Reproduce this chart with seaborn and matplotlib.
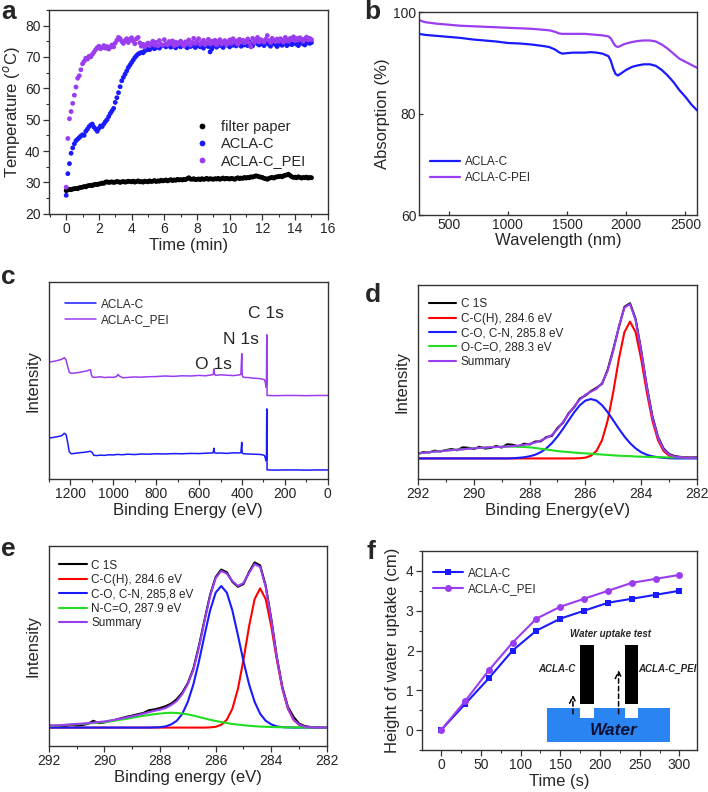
import numpy as np
import pandas as pd
import seaborn as sns
import matplotlib.pyplot as plt
from matplotlib.patches import Rectangle
from matplotlib.ticker import MultipleLocator, NullLocator

sns.set_theme(style="ticks")
plt.rcParams['font.family'] = ['Liberation Sans', 'DejaVu Sans']

BLUE = "#1a1aff"
PURPLE = "#9a3cf0"

# ---------------- (a) photothermal heating ----------------
time_min = np.round(np.arange(0, 15.01, 0.1), 1)
temp_filter = [27.4, 27.6, 27.8, 27.7, 27.9, 28.0, 28.1, 28.0, 28.3, 28.4,
               28.5, 28.7, 28.6, 28.9, 29.0, 29.1, 29.0, 29.3, 29.4, 29.3,
               29.5, 29.6, 29.8, 29.7, 30.1, 30.2, 30.0, 30.1, 30.2, 30.0,
               30.1, 30.3, 30.2, 30.0, 30.2, 30.3, 30.1, 30.2, 30.4, 30.3,
               30.2, 30.4, 30.1, 30.3, 30.5, 30.2, 30.3, 30.1, 30.4, 30.3,
               30.2, 30.5, 30.3, 30.4, 30.6, 30.3, 30.5, 30.4, 30.7, 30.5,
               30.6, 30.8, 30.5, 30.7, 30.9, 30.6, 30.8, 30.7, 31.0, 30.8,
               30.9, 30.8, 31.0, 30.9, 31.2, 31.5, 31.1, 31.0, 31.2, 30.9,
               31.0, 31.1, 30.9, 31.2, 31.0, 31.1, 31.3, 31.0, 31.2, 31.1,
               31.0, 31.2, 31.1, 31.3, 31.0, 31.2, 31.4, 31.1, 31.3, 31.2,
               31.1, 31.3, 31.2, 31.0, 31.3, 31.5, 31.2, 31.4, 31.3, 31.6,
               31.4, 31.6, 31.5, 31.8, 31.7, 31.9, 32.1, 32.0, 31.8, 31.7,
               31.6, 31.3, 31.2, 31.0, 31.3, 31.5, 31.6, 31.4, 31.7, 31.8,
               31.9, 32.0, 31.8, 32.1, 32.3, 32.4, 32.6, 32.2, 31.8, 31.6,
               31.7, 31.5, 31.8, 31.6, 31.4, 31.6, 31.5, 31.7, 31.4, 31.6, 31.5]
temp_aclac = [25.9, 32.8, 36.0, 39.3, 41.0, 42.3, 43.3, 43.8, 44.3, 44.8,
              45.2, 45.0, 46.3, 47.0, 47.8, 48.3, 48.6, 47.6, 47.0, 46.3,
              47.2, 48.0, 47.8, 48.6, 49.4, 50.0, 51.0, 52.0, 52.8, 53.6,
              55.5, 57.0, 58.6, 60.5, 62.4, 63.5, 64.5, 65.5, 66.6, 67.4,
              68.2, 69.0, 69.8, 70.4, 70.9, 71.2, 71.4, 71.3, 71.9, 72.2,
              72.5, 72.3, 72.8, 73.0, 72.6, 73.0, 73.3, 72.8, 73.4, 73.6,
              73.6, 73.2, 74.0, 73.5, 73.1, 73.8, 73.4, 72.9, 73.5, 73.9,
              73.2, 73.6, 74.1, 73.4, 72.9, 73.7, 73.3, 74.2, 73.5, 73.0,
              73.6, 74.0, 73.2, 73.7, 72.8, 73.5, 74.1, 73.3, 71.6, 72.5,
              73.4, 73.9, 73.1, 73.6, 74.2, 73.5, 73.0, 73.8, 74.3, 73.6,
              73.2, 74.0, 73.7, 74.4, 73.5, 73.9, 74.6, 73.4, 74.1, 73.8,
              74.3, 73.6, 74.8, 74.0, 73.5, 74.5, 75.0, 74.2, 73.8, 74.6,
              74.1, 73.6, 74.4, 74.9, 74.0, 73.4, 74.3, 74.7, 73.9, 73.3,
              74.0, 74.5, 73.7, 74.2, 74.8, 73.6, 74.1, 74.6, 73.9, 74.3,
              74.7, 74.0, 73.6, 74.4, 74.8, 74.1, 73.8, 74.5, 74.9, 74.3, 74.6]
temp_pei = [28.5, 44.0, 50.3, 52.6, 55.2, 57.8, 60.4, 63.2, 64.0, 65.9,
            67.8, 68.6, 69.6, 69.3, 70.2, 70.0, 70.8, 71.5, 72.3, 72.9,
            73.4, 72.6, 72.9, 73.6, 72.8, 73.3, 72.5, 73.1, 73.8, 73.2,
            74.4, 75.3, 76.2, 75.8, 74.9, 74.3, 75.2, 75.8, 74.6, 75.6,
            76.1, 75.0, 74.2, 75.8, 76.2, 74.5, 73.4, 74.0, 73.2, 73.9,
            74.4, 73.6, 74.2, 75.0, 73.8, 74.6, 73.5, 75.2, 74.0, 73.7,
            75.5, 74.2, 73.8, 74.9, 74.3, 75.1, 73.6, 74.7, 73.9, 74.5,
            75.0, 74.1, 73.5, 74.8, 74.2, 75.4, 73.8, 74.6, 75.9, 74.3,
            74.9, 75.8, 74.0, 74.7, 75.3, 73.9, 74.5, 75.6, 74.2, 75.0,
            74.4, 75.3, 73.8, 74.9, 75.5, 74.1, 74.7, 75.2, 73.9, 74.6,
            75.4, 74.3, 75.8, 74.7, 75.1, 74.0, 75.6, 74.8, 75.3, 74.5,
            75.0, 75.7, 74.4, 73.2, 75.9, 74.6, 75.3, 76.2, 74.8, 75.5,
            75.1, 74.7, 75.6, 76.8, 75.2, 74.6, 75.9, 75.3, 74.9, 75.7,
            75.0, 75.8, 75.3, 74.7, 76.2, 75.4, 75.0, 75.9, 75.5, 76.4,
            75.2, 75.9, 75.4, 76.1, 75.6, 75.0, 75.8, 76.3, 75.4, 75.9, 75.5]

# ---------------- (b) absorption ----------------
wavelength = [250, 300, 400, 500, 600, 700, 800, 900, 1000, 1100, 1200, 1300, 1350, 1400,
              1430, 1460, 1500, 1550, 1600, 1650, 1700, 1750, 1800, 1850, 1870, 1890, 1910,
              1930, 1950, 1975, 2000, 2050, 2100, 2150, 2200, 2250, 2300, 2350, 2400, 2450,
              2500, 2550, 2600]
abs_aclac = [95.7, 95.5, 95.3, 95.1, 94.9, 94.6, 94.4, 94.2, 93.9, 93.8,
             93.6, 93.3, 93.1, 92.6, 92.1, 91.8, 91.9, 92.0, 92.0, 92.0,
             92.1, 92.0, 91.8, 91.3, 90.4, 88.9, 87.8, 87.5, 87.8, 88.2,
             88.6, 89.2, 89.5, 89.7, 89.7, 89.4, 88.6, 87.5, 86.2, 84.6,
             83.3, 81.8, 80.6]
abs_pei = [98.4, 98.0, 97.7, 97.5, 97.3, 97.2, 97.1, 97.0, 96.9, 96.8,
           96.7, 96.5, 96.4, 96.1, 95.8, 95.7, 95.7, 95.7, 95.7, 95.7,
           95.6, 95.5, 95.4, 95.2, 94.8, 94.0, 93.3, 93.1, 93.3, 93.6,
           93.8, 94.1, 94.3, 94.4, 94.4, 94.2, 93.6, 92.8, 91.8, 90.8,
           90.2, 89.6, 89.0]

# ---------------- (c) XPS survey ----------------
be_pei = [1300, 1285, 1270, 1255, 1240, 1228, 1220, 1212, 1205, 1195, 1180, 1160, 1140, 1120,
          1106, 1102, 1097, 1085, 1060, 1040, 1020, 1000, 985, 978, 970, 955, 930, 900, 870,
          840, 800, 760, 720, 680, 640, 600, 570, 545, 534, 531, 528, 522, 500, 470, 440, 415,
          405, 401, 399, 396, 390, 370, 345, 320, 305, 295, 291, 288, 286, 284.5, 283, 275,
          250, 200, 150, 100, 50, 0]
int_pei = [59.3, 59.6, 59.9, 60.3, 60.8, 61.6, 60.5, 57.0, 54.2, 53.6, 53.8, 54.1, 54.5, 55.0,
           55.5, 53.0, 51.8, 51.6, 51.9, 51.5, 51.7, 51.6, 52.0, 53.1, 52.2, 51.4, 51.6, 51.8,
           51.7, 51.9, 52.0, 52.3, 52.1, 52.4, 52.3, 52.6, 52.4, 52.8, 53.0, 55.9, 53.2, 52.6,
           52.9, 52.7, 52.5, 52.8, 53.1, 63.6, 53.0, 51.8, 51.6, 51.5, 51.2, 51.0, 50.7, 50.4,
           49.0, 46.6, 48.0, 73.2, 42.4, 42.4, 42.3, 42.4, 42.4, 42.3, 42.4, 42.4]
be_aclac = [1300, 1285, 1270, 1255, 1240, 1228, 1220, 1212, 1205, 1195, 1180, 1160, 1140, 1120,
            1106, 1098, 1090, 1075, 1060, 1040, 1020, 1000, 980, 960, 930, 900, 870, 840, 800,
            760, 720, 680, 640, 600, 570, 545, 534, 531, 528, 522, 500, 470, 440, 415, 405, 401,
            399, 396, 390, 370, 345, 320, 305, 295, 291, 288, 286, 284.5, 283, 275, 250, 200,
            150, 100, 50, 0]
int_aclac = [20.8, 21.0, 21.3, 21.6, 22.0, 23.2, 22.6, 18.5, 13.8, 12.8, 13.0, 13.3, 13.5, 13.8,
             14.1, 13.4, 12.0, 11.9, 12.1, 12.0, 12.3, 12.2, 12.5, 12.3, 12.6, 12.4, 12.7, 12.6,
             12.8, 12.7, 12.9, 12.8, 13.0, 12.9, 13.1, 13.2, 13.3, 15.6, 13.4, 13.1, 13.2, 13.0,
             13.3, 13.2, 13.4, 18.6, 13.2, 12.9, 12.8, 12.7, 12.6, 12.5, 12.3, 11.9, 10.5, 9.3,
             10.0, 35.6, 4.6, 4.6, 4.5, 4.6, 4.6, 4.5, 4.6, 4.6]

# ---------------- (d) / (e) C 1s fits, 282 -> 292 eV every 0.2 eV ----------------
be_fit = np.round(np.linspace(282, 292, 51), 1)

d_c1s = [11.3, 11.1, 11.2, 11.4, 11.8, 12.9, 15.8, 21.9, 32.6, 48.0,
         66.4, 82.5, 90.6, 88.7, 78.2, 66.8, 56.4, 49.1, 47.0, 45.3,
         43.0, 41.4, 37.0, 33.9, 29.0, 26.3, 22.2, 21.6, 19.4, 19.3,
         17.8, 18.2, 16.8, 17.6, 17.9, 16.2, 17.0, 16.0, 15.7, 16.6,
         15.4, 16.1, 16.3, 14.8, 15.4, 14.9, 14.2, 14.6, 13.7, 13.9, 13.0]
d_cc = [11.0, 11.0, 11.1, 11.2, 11.5, 12.0, 14.5, 20.1, 30.2, 44.9,
        61.8, 75.7, 81.1, 75.7, 61.8, 44.9, 30.2, 20.1, 14.5, 12.0,
        11.0, 10.7, 10.6, 10.6, 10.6, 10.6, 10.6, 10.6, 10.6, 10.6,
        10.6, 10.6, 10.6, 10.6, 10.6, 10.6, 10.6, 10.6, 10.6, 10.6,
        10.6, 10.6, 10.6, 10.6, 10.6, 10.6, 10.6, 10.6, 10.6, 10.6, 10.6]
d_co = [10.6, 10.6, 10.6, 10.6, 10.6, 10.7, 10.9, 11.2, 11.7, 12.5,
        13.8, 15.8, 18.5, 21.9, 25.9, 30.2, 34.4, 38.0, 40.4, 41.2,
        40.4, 38.0, 34.4, 30.2, 25.9, 21.9, 18.5, 15.8, 13.8, 12.5,
        11.7, 11.2, 10.9, 10.7, 10.6, 10.6, 10.6, 10.6, 10.6, 10.6,
        10.6, 10.6, 10.6, 10.6, 10.6, 10.6, 10.6, 10.6, 10.6, 10.6, 10.6]
d_oco = [11.0, 11.0, 11.0, 11.1, 11.1, 11.1, 11.2, 11.3, 11.3, 11.4,
         11.5, 11.6, 11.8, 11.9, 12.0, 12.2, 12.4, 12.6, 12.8, 13.0,
         13.2, 13.4, 13.6, 13.9, 14.1, 14.4, 14.8, 15.2, 15.6, 16.0,
         16.3, 16.5, 16.6, 16.7, 16.7, 16.6, 16.5, 16.4, 16.2, 16.0,
         15.8, 15.6, 15.3, 15.1, 14.9, 14.6, 14.3, 14.1, 13.8, 13.5, 13.2]
d_sum = [11.0, 11.0, 11.0, 11.2, 11.5, 12.6, 15.4, 21.4, 32.0, 47.6,
         65.9, 81.9, 90.2, 88.3, 78.5, 66.1, 55.8, 49.5, 46.5, 45.0,
         43.4, 40.9, 37.4, 33.5, 29.4, 25.7, 22.7, 21.2, 19.8, 18.8,
         18.1, 17.6, 17.2, 17.0, 16.7, 16.6, 16.5, 16.4, 16.2, 16.0,
         15.8, 15.6, 15.3, 15.1, 14.9, 14.6, 14.3, 14.1, 13.8, 13.5, 13.2]

e_c1s = [9.0, 9.1, 9.4, 9.5, 10.0, 11.2, 14.6, 19.5, 29.4, 44.5,
         63.6, 80.1, 90.3, 91.8, 87.0, 81.0, 79.6, 82.1, 86.9, 88.2,
         84.5, 75.6, 63.1, 50.2, 38.8, 31.5, 26.7, 23.4, 21.2, 19.9,
         19.0, 18.3, 17.9, 16.5, 15.9, 15.2, 14.6, 13.9, 13.1, 12.5,
         11.8, 11.4, 12.6, 11.0, 10.5, 10.2, 10.6, 10.0, 9.7, 9.9, 10.4]
e_cc = [9.2, 9.2, 9.2, 9.3, 9.6, 10.6, 13.1, 18.6, 28.5, 43.1,
        59.7, 73.4, 78.8, 73.4, 59.7, 43.1, 28.5, 18.6, 13.1, 10.6,
        9.6, 9.3, 9.2, 9.2, 9.2, 9.2, 9.2, 9.2, 9.2, 9.2,
        9.2, 9.2, 9.2, 9.2, 9.2, 9.2, 9.2, 9.2, 9.2, 9.2,
        9.2, 9.2, 9.2, 9.2, 9.2, 9.2, 9.2, 9.2, 9.2, 9.2, 9.2]
e_co = [9.2, 9.2, 9.2, 9.2, 9.2, 9.2, 9.2, 9.3, 9.4, 9.8,
        10.8, 12.6, 16.1, 22.1, 30.9, 42.4, 55.4, 67.8, 76.7, 80.0,
        76.7, 67.8, 55.4, 42.4, 30.9, 22.1, 16.1, 12.6, 10.8, 9.8,
        9.4, 9.3, 9.2, 9.2, 9.2, 9.2, 9.2, 9.2, 9.2, 9.2,
        9.2, 9.2, 9.2, 9.2, 9.2, 9.2, 9.2, 9.2, 9.2, 9.2, 9.2]
e_nco = [9.2, 9.2, 9.2, 9.2, 9.2, 9.3, 9.3, 9.3, 9.4, 9.4,
         9.5, 9.6, 9.7, 9.9, 10.1, 10.4, 10.7, 11.0, 11.5, 12.0,
         12.5, 13.1, 13.8, 14.5, 15.2, 15.8, 16.2, 16.5, 16.6, 16.5,
         16.2, 15.9, 15.5, 15.1, 14.6, 14.1, 13.6, 13.2, 12.7, 12.3,
         12.0, 11.7, 11.5, 11.2, 11.0, 10.8, 10.7, 10.5, 10.3, 10.2, 10.0]
e_sum = [9.2, 9.2, 9.2, 9.3, 9.7, 10.7, 13.2, 18.8, 28.9, 43.9,
         63.0, 79.5, 89.5, 91.0, 86.5, 81.5, 80.0, 82.5, 86.2, 87.5,
         84.0, 75.0, 62.5, 49.5, 38.2, 31.0, 26.0, 22.5, 20.5, 19.0,
         18.2, 17.6, 16.9, 16.2, 15.5, 14.9, 14.3, 13.7, 13.2, 12.7,
         12.3, 12.0, 11.7, 11.4, 11.2, 11.0, 10.8, 10.6, 10.4, 10.3, 10.1]

# ---------------- (f) water uptake ----------------
time_s = [0, 30, 60, 90, 120, 150, 180, 210, 240, 270, 300]
height_aclac = [0, 0.65, 1.3, 2.0, 2.5, 2.8, 3.0, 3.2, 3.3, 3.4, 3.5]
height_pei = [0, 0.72, 1.5, 2.2, 2.8, 3.1, 3.3, 3.5, 3.7, 3.8, 3.9]

fig = plt.figure(figsize=(7.08, 7.92), dpi=100)
ax_a = fig.add_axes([0.069, 0.730, 0.394, 0.2576])
ax_b = fig.add_axes([0.592, 0.7285, 0.3927, 0.2563])
ax_c = fig.add_axes([0.069, 0.3952, 0.394, 0.2487])
ax_d = fig.add_axes([0.5904, 0.3952, 0.394, 0.245])
ax_e = fig.add_axes([0.069, 0.0581, 0.3927, 0.2525])
ax_f = fig.add_axes([0.596, 0.053, 0.3884, 0.2513])

for ax in [ax_a, ax_b, ax_c, ax_d, ax_e, ax_f]:
    for sp in ax.spines.values():
        sp.set_visible(True)
        sp.set_color("#333333")
        sp.set_linewidth(1.0)
    ax.tick_params(labelsize=10, direction="out", length=4, width=0.9, color="#333333",
                   top=False, right=False, pad=2)
    ax.tick_params(which="minor", direction="out", length=2.5, width=0.8, color="#333333")

# (a)
df_a = pd.DataFrame({
    "t": np.concatenate([time_min] * 3),
    "T": temp_filter + temp_aclac + temp_pei,
    "s": ["filter paper"] * len(time_min) + ["ACLA-C"] * len(time_min) + ["ACLA-C_PEI"] * len(time_min),
})
sns.scatterplot(data=df_a, x="t", y="T", hue="s", ax=ax_a, s=12, linewidth=0,
                palette={"filter paper": "black", "ACLA-C": BLUE, "ACLA-C_PEI": PURPLE})
ax_a.set_xlim(-1.06, 16)
ax_a.set_ylim(20, 85)
ax_a.xaxis.set_major_locator(MultipleLocator(2))
ax_a.xaxis.set_minor_locator(MultipleLocator(1))
ax_a.yaxis.set_major_locator(MultipleLocator(10))
ax_a.yaxis.set_minor_locator(MultipleLocator(5))
ax_a.set_xlabel("Time (min)", fontsize=12, labelpad=1)
ax_a.set_ylabel("Temperature ($^{o}$C)", fontsize=12, labelpad=2)
ax_a.legend(loc="upper left", bbox_to_anchor=(0.46, 0.51), frameon=False, fontsize=10.5,
            handletextpad=0.3, labelspacing=0.2, markerscale=1.2, borderpad=0.2)

# (b)
df_b = pd.DataFrame({"wl": wavelength * 2, "A": abs_aclac + abs_pei,
                     "s": ["ACLA-C"] * len(wavelength) + ["ACLA-C-PEI"] * len(wavelength)})
sns.lineplot(data=df_b, x="wl", y="A", hue="s", ax=ax_b, linewidth=1.6, estimator=None,
             palette={"ACLA-C": BLUE, "ACLA-C-PEI": PURPLE})
ax_b.set_xlim(250, 2600)
ax_b.set_ylim(60, 100)
ax_b.xaxis.set_major_locator(MultipleLocator(500))
ax_b.yaxis.set_major_locator(MultipleLocator(20))
ax_b.tick_params(direction="in", length=3)
ax_b.set_xlabel("Wavelength (nm)", fontsize=12, labelpad=1)
ax_b.set_ylabel("Absorption (%)", fontsize=12, labelpad=2)
ax_b.legend(loc="lower left", bbox_to_anchor=(0.0, 0.1), frameon=False, fontsize=8.5,
            handlelength=2.6, handletextpad=0.4, labelspacing=0.35)

# (c)
df_c = pd.DataFrame({"be": be_aclac + be_pei, "I": int_aclac + int_pei,
                     "s": ["ACLA-C"] * len(be_aclac) + ["ACLA-C_PEI"] * len(be_pei)})
sns.lineplot(data=df_c, x="be", y="I", hue="s", ax=ax_c, linewidth=1.1, estimator=None,
             palette={"ACLA-C": BLUE, "ACLA-C_PEI": PURPLE})
ax_c.set_xlim(1300, 0)
ax_c.set_ylim(0, 100)
ax_c.xaxis.set_major_locator(MultipleLocator(200))
ax_c.xaxis.set_minor_locator(MultipleLocator(100))
ax_c.yaxis.set_major_locator(NullLocator())
ax_c.set_xlabel("Binding Energy (eV)", fontsize=12, labelpad=1)
ax_c.set_ylabel("Intensity", fontsize=12, labelpad=6)
ax_c.legend(loc="upper left", bbox_to_anchor=(0.02, 0.97), frameon=False, fontsize=8.5,
            handlelength=2.6, handletextpad=0.4, labelspacing=0.3)
ax_c.text(288, 80, "C 1s", fontsize=12.5, ha="center", va="bottom")
ax_c.text(405, 67, "N 1s", fontsize=12.5, ha="center", va="bottom")
ax_c.text(535, 54.5, "O 1s", fontsize=12.5, ha="center", va="bottom")


def fit_panel(ax, curves, xlabel):
    labels = [c[0] for c in curves]
    df = pd.DataFrame({"be": np.concatenate([be_fit] * len(curves)),
                       "I": np.concatenate([c[1] for c in curves]),
                       "s": np.repeat(labels, len(be_fit))})
    sns.lineplot(data=df, x="be", y="I", hue="s", hue_order=labels, ax=ax, linewidth=1.5,
                 estimator=None, palette=dict(zip(labels, ["black", "red", BLUE, "#22dd22", PURPLE])))
    ax.set_xlim(292, 282)
    ax.set_ylim(0, 100)
    ax.xaxis.set_major_locator(MultipleLocator(2))
    ax.xaxis.set_minor_locator(MultipleLocator(1))
    ax.yaxis.set_major_locator(NullLocator())
    ax.set_xlabel(xlabel, fontsize=12, labelpad=1)
    ax.set_ylabel("Intensity", fontsize=12, labelpad=6)
    ax.legend(loc="upper left", bbox_to_anchor=(0.0, 0.985), frameon=False, fontsize=8.5,
              handlelength=2.3, handletextpad=0.4, labelspacing=0.2)


# (d)
fit_panel(ax_d, [("C 1S", d_c1s), ("C-C(H), 284.6 eV", d_cc), ("C-O, C-N, 285.8 eV", d_co),
                 ("O-C=O, 288.3 eV", d_oco), ("Summary", d_sum)], "Binding Energy(eV)")
# (e)
fit_panel(ax_e, [("C 1S", e_c1s), ("C-C(H), 284.6 eV", e_cc), ("C-O, C-N, 285,8 eV", e_co),
                 ("N-C=O, 287.9 eV", e_nco), ("Summary", e_sum)], "Binding energy (eV)")

# (f)
df_f = pd.DataFrame({"t": time_s * 2, "h": height_aclac + height_pei,
                     "s": ["ACLA-C"] * len(time_s) + ["ACLA-C_PEI"] * len(time_s)})
sns.lineplot(data=df_f, x="t", y="h", hue="s", style="s", markers={"ACLA-C": "s", "ACLA-C_PEI": "o"},
             dashes=False, ax=ax_f, linewidth=1.5, markersize=5, markeredgewidth=0, estimator=None,
             palette={"ACLA-C": BLUE, "ACLA-C_PEI": PURPLE})
ax_f.set_xlim(-24, 322)
ax_f.set_ylim(-0.5, 4.5)
ax_f.xaxis.set_major_locator(MultipleLocator(50))
ax_f.xaxis.set_minor_locator(MultipleLocator(25))
ax_f.yaxis.set_major_locator(MultipleLocator(1))
ax_f.yaxis.set_minor_locator(MultipleLocator(0.5))
ax_f.set_xlabel("Time (s)", fontsize=12, labelpad=1)
ax_f.set_ylabel("Height of water uptake (cm)", fontsize=12, labelpad=4)
ax_f.legend(loc="upper left", bbox_to_anchor=(0.0, 0.97), frameon=False, fontsize=8.5,
            handlelength=2.6, handletextpad=0.4, labelspacing=0.3)

# schematic of the wicking test
tr = ax_f.transAxes
ax_f.add_patch(Rectangle((0.4545, 0.042), 0.4485, 0.168, transform=tr, color="#2a85f2", lw=0))
for x0 in [0.576, 0.739]:
    ax_f.add_patch(Rectangle((x0, 0.163), 0.048, 0.05, transform=tr, color="white", lw=0))
    ax_f.add_patch(Rectangle((x0, 0.230), 0.048, 0.296, transform=tr, color="black", lw=0))
for xa, ya in [(0.549, 0.291), (0.715, 0.415)]:
    ax_f.annotate("", xy=(xa, ya), xytext=(xa, 0.168), xycoords=tr, textcoords=tr,
                  arrowprops=dict(arrowstyle="->", linestyle=(0, (3, 2)), lw=1.1, color="black"))
ax_f.text(0.685, 0.583, "Water uptake test", transform=tr, ha="center", va="center",
          fontsize=7, fontweight="bold", style="italic")
ax_f.text(0.491, 0.407, "ACLA-C", transform=tr, ha="center", va="center",
          fontsize=7, fontweight="bold", style="italic")
ax_f.text(0.891, 0.407, "ACLA-C_PEI", transform=tr, ha="center", va="center",
          fontsize=7, fontweight="bold", style="italic")
ax_f.text(0.697, 0.097, "Water", transform=tr, ha="center", va="center",
          fontsize=12.5, fontweight="bold", style="italic", color="#111133")

# panel letters
for lbl, x, y in [("a", 0.002, 1.0), ("b", 0.514, 1.0), ("c", 0.002, 0.665),
                  ("d", 0.516, 0.643), ("e", 0.002, 0.322), ("f", 0.518, 0.318)]:
    fig.text(x, y, lbl, fontsize=19, fontweight="bold", va="top", ha="left")

fig.savefig("out.png", dpi=100)
